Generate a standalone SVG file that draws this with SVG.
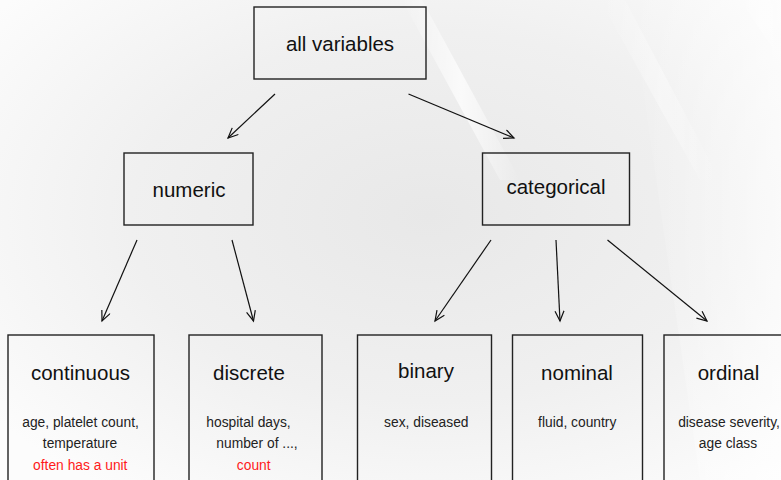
<svg xmlns="http://www.w3.org/2000/svg" width="781" height="480" viewBox="0 0 781 480">
<defs>
<radialGradient id="bg" cx="0.55" cy="0.45" r="0.7">
<stop offset="0" stop-color="#e8e8e8"/>
<stop offset="0.55" stop-color="#f0f0f0"/>
<stop offset="1" stop-color="#fcfcfc"/>
</radialGradient>
<linearGradient id="streak" x1="0" y1="0" x2="1" y2="0">
<stop offset="0" stop-color="#fff" stop-opacity="0"/>
<stop offset="0.5" stop-color="#fff" stop-opacity="0.9"/>
<stop offset="1" stop-color="#fff" stop-opacity="0"/>
</linearGradient>
<linearGradient id="rightfade" x1="0" y1="0" x2="1" y2="0">
<stop offset="0" stop-color="#fff" stop-opacity="0"/>
<stop offset="1" stop-color="#fff" stop-opacity="0.6"/>
</linearGradient>
<marker id="arr" markerWidth="14" markerHeight="12" refX="11" refY="5" orient="auto" markerUnits="userSpaceOnUse">
<path d="M1,0.5 L11,5 L1,9.5" fill="none" stroke="#111" stroke-width="1.2"/>
</marker>
<style>
.box{fill:none;stroke:#222;stroke-width:1.4}
.t{font-family:"Liberation Sans",Arial,sans-serif;font-size:20.5px;fill:#111;text-anchor:middle}
.s{font-family:"Liberation Sans",Arial,sans-serif;font-size:13.8px;fill:#222;text-anchor:middle}
.r{fill:#ff1a1a}
.c line{stroke:#111;stroke-width:1.2;marker-end:url(#arr)}
</style>
</defs>
<rect width="781" height="480" fill="url(#bg)"/>
<polygon points="630,0 781,0 781,480 700,480" fill="url(#rightfade)"/>
<polygon points="402,0 422,0 520,180 500,180" fill="url(#streak)" opacity="0.8"/>
<polygon points="600,0 625,0 720,180 700,180" fill="url(#streak)" opacity="0.4"/>
<polygon points="740,0 770,0 781,20 781,60" fill="url(#streak)" opacity="0.5"/>

<g id="all"><rect class="box" x="254" y="7" width="172" height="72"/><text class="t" x="340" y="51">all variables</text></g>
<g id="numeric"><rect class="box" x="124" y="153" width="129" height="72"/><text class="t" x="189" y="197">numeric</text></g>
<g id="categorical"><rect class="box" x="482.5" y="153" width="147" height="72"/><text class="t" x="556" y="194">categorical</text></g>

<g id="continuous"><rect class="box" x="8" y="335" width="146" height="160"/>
<text class="t" x="80.5" y="380">continuous</text>
<text class="s" x="80.5" y="427">age, platelet count,</text>
<text class="s" x="80" y="448">temperature</text>
<text class="s r" x="80.3" y="470">often has a unit</text></g>

<g id="discrete"><rect class="box" x="189" y="335" width="133" height="160"/>
<text class="t" x="249" y="380">discrete</text>
<text class="s" x="248.5" y="427">hospital days,</text>
<text class="s" x="257" y="448">number of ...,</text>
<text class="s r" x="253.7" y="470">count</text></g>

<g id="binary"><rect class="box" x="357.5" y="335" width="134" height="160"/>
<text class="t" x="426" y="378">binary</text>
<text class="s" x="426.3" y="427">sex, diseased</text></g>

<g id="nominal"><rect class="box" x="512.5" y="335" width="130" height="160"/>
<text class="t" x="577" y="380">nominal</text>
<text class="s" x="577.2" y="427">fluid, country</text></g>

<g id="ordinal"><rect class="box" x="664" y="335" width="130" height="160"/>
<text class="t" x="728.5" y="380">ordinal</text>
<text class="s" x="729" y="427">disease severity,</text>
<text class="s" x="728" y="448">age class</text></g>

<g id="connectors" class="c">
<line x1="275" y1="94" x2="228" y2="138"/>
<line x1="408.5" y1="94" x2="514" y2="138"/>
<line x1="137" y1="240" x2="102" y2="321"/>
<line x1="232" y1="240" x2="253.5" y2="321"/>
<line x1="491" y1="240" x2="435" y2="321"/>
<line x1="556" y1="240" x2="560" y2="321"/>
<line x1="607.5" y1="240" x2="707" y2="321"/>
</g>
</svg>
